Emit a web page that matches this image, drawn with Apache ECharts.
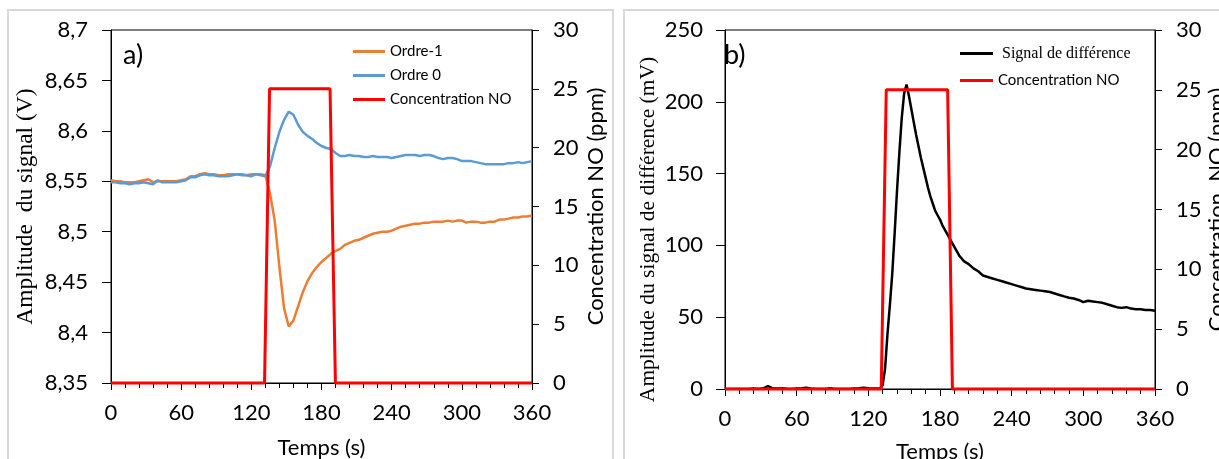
<!DOCTYPE html>
<html><head><meta charset="utf-8">
<script src="https://cdn.jsdelivr.net/npm/echarts@6/dist/echarts.min.js"></script>
<style>html,body{margin:0;padding:0;background:#fff}#c{width:1219px;height:459px}</style>
</head><body><div id="c"></div>
<script>
// ---------- data ----------
const timeA = [0,4,8,12,16,20,24,28,32,36,40,44,48,52,56,60,64,68,72,76,80,84,88,92,96,100,104,108,112,116,120,124,128,132,136,140,144,148,152,156,160,164,168,172,176,180,184,188,192,196,200,204,208,212,216,220,224,228,232,236,240,244,248,252,256,260,264,268,272,276,280,284,288,292,296,300,304,308,312,316,320,324,328,332,336,340,344,348,352,356,360];
const ordreMoins1 = [8.551,8.550,8.550,8.549,8.549,8.549,8.550,8.551,8.552,8.549,8.550,8.550,8.550,8.550,8.550,8.551,8.552,8.555,8.555,8.557,8.558,8.557,8.557,8.556,8.556,8.557,8.557,8.557,8.557,8.556,8.557,8.557,8.557,8.556,8.538,8.511,8.465,8.424,8.406,8.412,8.426,8.440,8.451,8.459,8.465,8.470,8.474,8.478,8.481,8.483,8.487,8.489,8.491,8.492,8.494,8.496,8.498,8.499,8.500,8.500,8.501,8.503,8.505,8.506,8.507,8.508,8.508,8.509,8.509,8.510,8.510,8.510,8.511,8.510,8.511,8.511,8.509,8.510,8.510,8.509,8.509,8.510,8.510,8.512,8.512,8.513,8.514,8.514,8.515,8.515,8.516];
const ordre0 = [8.549,8.549,8.548,8.548,8.547,8.548,8.548,8.549,8.548,8.547,8.551,8.549,8.549,8.549,8.549,8.550,8.551,8.554,8.554,8.556,8.557,8.556,8.556,8.555,8.555,8.555,8.556,8.557,8.556,8.556,8.555,8.557,8.556,8.555,8.565,8.583,8.599,8.611,8.619,8.616,8.606,8.599,8.595,8.592,8.588,8.585,8.583,8.582,8.578,8.575,8.575,8.576,8.575,8.575,8.574,8.574,8.575,8.574,8.574,8.574,8.573,8.574,8.575,8.576,8.576,8.576,8.575,8.576,8.576,8.575,8.573,8.572,8.573,8.573,8.572,8.570,8.570,8.570,8.569,8.568,8.567,8.567,8.567,8.567,8.567,8.568,8.568,8.569,8.568,8.569,8.570];
const timeB = [0,4,8,12,16,20,24,28,32,36,40,44,48,52,56,60,64,68,72,76,80,84,88,92,96,100,104,108,112,116,120,124,128,
  130,132,134,136,138,140,142,144,146,148,150,152,154,156,158,160,162,164,166,168,170,172,174,176,178,180,182,184,186,188,190,192,194,196,198,200,
  204,208,212,216,220,224,228,232,236,240,244,248,252,256,260,264,268,272,276,280,284,288,292,296,300,304,308,312,316,320,324,328,332,336,340,344,348,352,356,360];
const signalDiff = [0,0,0,0,0,0,0.3,0,0.5,2,0.5,0.3,0.5,0.2,0,0.3,0.5,0.8,0.3,0,0,0,0.5,0,0,0,0,0.3,0.5,0.8,0.5,0.3,0.3,
  0.5,3,14,38,58,80,108,138,165,189,206,212,204,195,186,177,169,161,154,147,140,134,129,124,121,118,114,111,108,105,102,99,96,93,91,89,
  87,84,82,79,78,77,76,75,74,73,72,71,70,69.5,69,68.5,68,67.5,66.5,65.5,64.5,63.5,63,62,60.5,61.5,61,60.5,60,59,58,57,56.5,57,56,55.5,55.5,55,55,54.5];
const concTimeA = [0,131.3,135.6,187.3,191.9,360];
const concA     = [0,0,25,25,0,0];
const concTimeB = [0,130.8,135.0,186.4,190.4,360];
const concB     = [0,0,25,25,0,0];
const xTicks = [0,60,120,180,240,300,360];
const leftTicksA = ['8,35','8,4','8,45','8,5','8,55','8,6','8,65','8,7'];
const rightTicks = ['0','5','10','15','20','25','30'];
const leftTicksB = ['0','50','100','150','200','250'];

const zip = (xs, ys) => xs.map((x, i) => [x, ys[i]]);

const SANS = 'Lato';
const SERIF = 'Liberation Serif';
const tickFont = {fontFamily: SANS, fontSize: 22, color: '#000'};
const axisLine = {show: true, lineStyle: {color: '#000', width: 1}};

function xAxis(gi, gap) {
  return {
    type: 'value', gridIndex: gi, min: 0, max: 360, interval: 60,
    name: 'Temps (s)', nameLocation: 'middle', nameGap: gap,
    nameTextStyle: {fontFamily: SANS, fontSize: 22, color: '#000'},
    axisLine: axisLine, splitLine: {show: false},
    axisTick: {show: true, length: 7, lineStyle: {color: '#000'}},
    minorTick: {show: true, splitNumber: 5, length: 5, lineStyle: {color: '#000'}},
    axisLabel: Object.assign({margin: 19, formatter: (v, i) => String(xTicks[i] ?? v)}, tickFont)
  };
}

const option = {
  animation: false,
  backgroundColor: '#fff',
  graphic: [
    {type: 'rect', shape: {x: 8, y: 10, width: 605, height: 480}, style: {fill: 'none', stroke: '#d9d9d9', lineWidth: 2}, z: 0},
    {type: 'rect', shape: {x: 624, y: 10, width: 620, height: 480}, style: {fill: 'none', stroke: '#d9d9d9', lineWidth: 2}, z: 0},
    {type: 'text', left: 123, top: 42, style: {text: 'a)', fontFamily: SANS, fontSize: 27, fill: '#000'}, z: 10},
    {type: 'text', left: 724, top: 42, style: {text: 'b)', fontFamily: SANS, fontSize: 27, fill: '#000'}, z: 10}
  ],
  grid: [
    {left: 111, top: 30, width: 421, height: 353, show: true, borderColor: '#000', borderWidth: 1, backgroundColor: 'transparent', containLabel: false, outerBoundsMode: 'none'},
    {left: 725, top: 30, width: 430, height: 359, show: true, borderColor: '#000', borderWidth: 1, backgroundColor: 'transparent', containLabel: false, outerBoundsMode: 'none'}
  ],
  legend: [
    {
      orient: 'vertical', left: 353, top: 43, padding: 0, itemWidth: 32, itemHeight: 3, itemGap: 7,
      icon: 'rect',
      textStyle: {fontFamily: SANS, fontSize: 15, color: '#000', lineHeight: 17},
      data: ['Ordre-1', 'Ordre 0', {name: 'Concentration NO'}]
    },
    {
      orient: 'vertical', left: 960, top: 45, padding: 0, itemWidth: 33, itemHeight: 3, itemGap: 10,
      icon: 'rect',
      textStyle: {fontFamily: SANS, fontSize: 15, color: '#000', lineHeight: 17,
        rich: {s: {fontFamily: SERIF, fontSize: 16, color: '#000', padding: [0, 0, 0, 4]}}},
      formatter: n => n === 'Signal de différence' ? '{s|' + n + '}' : n,
      data: ['Signal de différence', 'Concentration NO']
    }
  ],
  xAxis: [xAxis(0, 54), xAxis(1, 52)],
  yAxis: [
    {
      type: 'value', gridIndex: 0, min: 8.35, max: 8.7, interval: 0.05, position: 'left',
      name: 'Amplitude  du signal (V)', nameLocation: 'middle', nameGap: 73,
      nameTextStyle: {fontFamily: SERIF, fontSize: 23.5, color: '#000'},
      axisLine: axisLine, splitLine: {show: false},
      axisTick: {show: true, length: 9, lineStyle: {color: '#000'}},
      axisLabel: Object.assign({margin: 23, formatter: (v, i) => leftTicksA[i]}, tickFont)
    },
    {
      type: 'value', gridIndex: 0, min: 0, max: 30, interval: 5, position: 'right',
      name: 'Concentration NO (ppm)', nameLocation: 'middle', nameGap: 53,
      nameTextStyle: {fontFamily: SANS, fontSize: 22, color: '#000'},
      axisLine: axisLine, splitLine: {show: false},
      axisTick: {show: true, length: 7, lineStyle: {color: '#000'}},
      axisLabel: Object.assign({margin: 21, formatter: (v, i) => rightTicks[i]}, tickFont)
    },
    {
      type: 'value', gridIndex: 1, min: 0, max: 250, interval: 50, position: 'left',
      name: 'Amplitude du signal de différence (mV)', nameLocation: 'middle', nameGap: 66,
      nameTextStyle: {fontFamily: SERIF, fontSize: 21.5, color: '#000', padding: [0, 40, 0, 0]},
      axisLine: axisLine, splitLine: {show: false},
      axisTick: {show: true, length: 9, lineStyle: {color: '#000'}},
      axisLabel: Object.assign({margin: 22, formatter: (v, i) => leftTicksB[i]}, tickFont)
    },
    {
      type: 'value', gridIndex: 1, min: 0, max: 30, interval: 5, position: 'right',
      name: 'Concentration  NO (ppm)', nameLocation: 'middle', nameGap: 44,
      nameTextStyle: {fontFamily: SANS, fontSize: 22, color: '#000'},
      axisLine: axisLine, splitLine: {show: false},
      axisTick: {show: true, length: 7, lineStyle: {color: '#000'}},
      axisLabel: Object.assign({margin: 21, formatter: (v, i) => rightTicks[i]}, tickFont)
    }
  ],
  series: [
    {name: 'Ordre-1', type: 'line', xAxisIndex: 0, yAxisIndex: 0, showSymbol: false, color: '#ED7D31',
     lineStyle: {width: 2.5}, data: zip(timeA, ordreMoins1), z: 3},
    {name: 'Ordre 0', type: 'line', xAxisIndex: 0, yAxisIndex: 0, showSymbol: false, color: '#5B9BD5',
     lineStyle: {width: 2.5}, data: zip(timeA, ordre0), z: 3},
    {name: 'Concentration NO', type: 'line', xAxisIndex: 0, yAxisIndex: 1, showSymbol: false, color: '#FF0000',
     lineStyle: {width: 3}, data: zip(concTimeA, concA), z: 4, clip: false},
    {name: 'Signal de différence', type: 'line', xAxisIndex: 1, yAxisIndex: 2, showSymbol: false, color: '#000000',
     lineStyle: {width: 2.5}, data: zip(timeB, signalDiff), z: 3},
    {name: 'Concentration NO', type: 'line', xAxisIndex: 1, yAxisIndex: 3, showSymbol: false, color: '#FF0000',
     lineStyle: {width: 3}, data: zip(concTimeB, concB), z: 4, clip: false}
  ]
};
const chart = echarts.init(document.getElementById('c'), null, {renderer: 'canvas'});
chart.setOption(option);
</script>
</body></html>
